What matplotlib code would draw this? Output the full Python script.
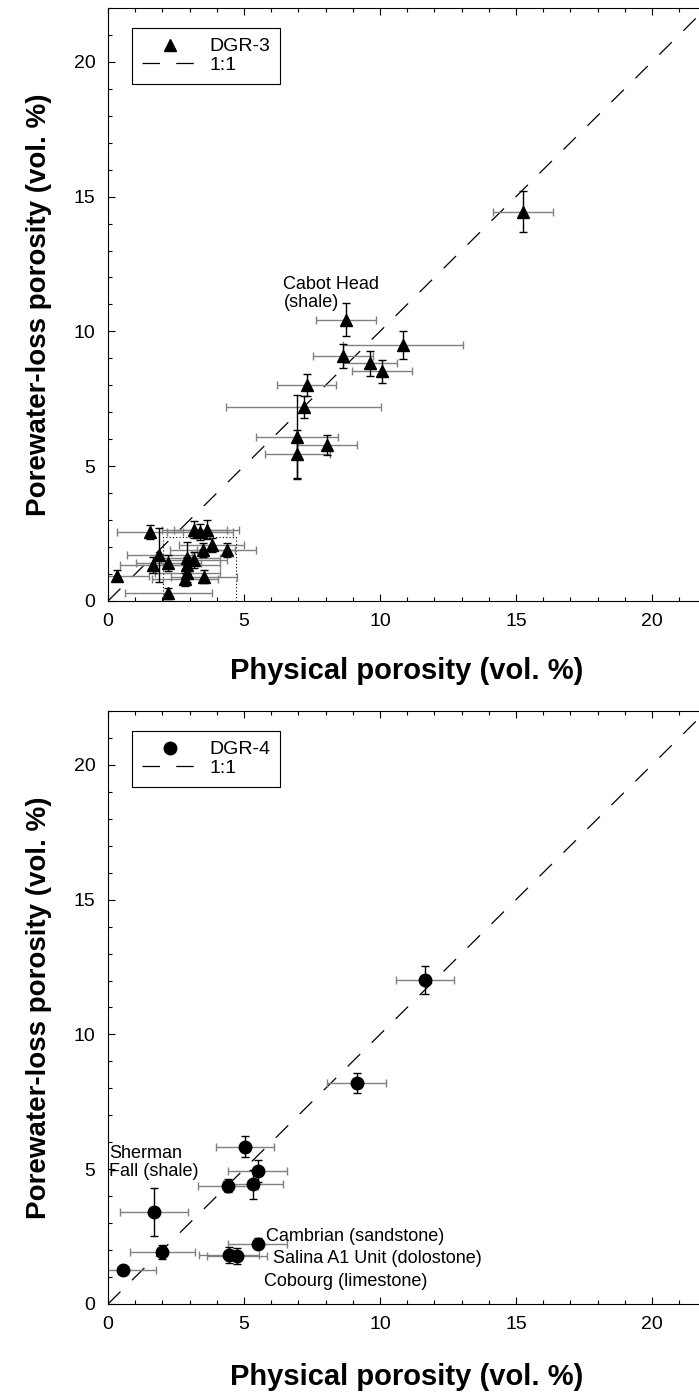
import numpy as np
import matplotlib
matplotlib.use("Agg")
import matplotlib.pyplot as plt
from matplotlib.ticker import MultipleLocator

plt.rcParams['font.family'] = ['Liberation Sans', 'DejaVu Sans']

# DGR-3 (top panel): physical porosity, porewater-loss porosity, errors
dgr3_x = [15.26, 8.75, 10.85, 8.65, 9.63, 10.06, 7.30, 7.20, 6.96, 6.96, 8.04,
          0.32, 1.54, 1.89, 1.64, 2.22, 2.22, 3.17, 3.38, 3.63, 3.81, 3.48, 4.36,
          2.92, 3.16, 2.92, 2.92, 2.83, 3.53]
dgr3_y = [14.44, 10.44, 9.48, 9.09, 8.81, 8.52, 8.02, 7.20, 6.09, 5.46, 5.78,
          0.94, 2.57, 1.70, 1.33, 0.28, 1.42, 2.65, 2.57, 2.65, 2.07, 1.89, 1.89,
          1.58, 1.52, 1.33, 1.02, 0.80, 0.90]
dgr3_xerr = [1.1, 1.1, 2.2, 1.1, 1.0, 1.1, 1.1, 2.85, 1.5, 1.2, 1.1,
             1.2, 1.2, 1.2, 1.2, 1.6, 1.2, 1.2, 1.2, 1.2, 1.2, 1.2, 1.1,
             1.2, 1.2, 1.2, 1.2, 1.2, 1.2]
dgr3_yerr = [0.76, 0.6, 0.52, 0.46, 0.46, 0.43, 0.41, 0.4, 1.55, 0.9, 0.37,
             0.2, 0.26, 1.0, 0.3, 0.2, 0.3, 0.3, 0.3, 0.35, 0.25, 0.25, 0.25,
             0.6, 0.3, 0.3, 0.3, 0.25, 0.25]

# DGR-4 (bottom panel)
dgr4_x = [11.65, 9.14, 5.04, 5.50, 4.42, 5.32, 5.50, 4.46, 4.75, 1.69, 2.0, 0.55]
dgr4_y = [12.02, 8.19, 5.84, 4.94, 4.39, 4.44, 2.23, 1.82, 1.78, 3.41, 1.92, 1.26]
dgr4_xerr = [1.07, 1.1, 1.07, 1.1, 1.1, 1.1, 1.1, 1.1, 1.1, 1.25, 1.2, 1.2]
dgr4_yerr = [0.53, 0.38, 0.38, 0.4, 0.25, 0.53, 0.2, 0.3, 0.3, 0.9, 0.25, 0.1]

# dotted box around low-porosity DGR-3 samples
box_x = [2.02, 2.02, 4.7, 4.7]
box_y = [0.0, 2.37, 2.37, 0.0]

LIM = 22

fig = plt.figure(figsize=(6.99, 13.93), dpi=100)
ax1 = fig.add_axes([0.1545, 0.5686, 0.856, 0.4257])
ax2 = fig.add_axes([0.1545, 0.0639, 0.856, 0.4257])


def draw(ax, x, y, xerr, yerr, marker, ms, label, xpad):
    ax.errorbar(x, y, xerr=xerr, fmt='none', ecolor='#808080', elinewidth=1.0,
                capsize=3, capthick=1.0, zorder=2)
    ax.errorbar(x, y, yerr=yerr, fmt='none', ecolor='black', elinewidth=1.0,
                capsize=3, capthick=1.0, zorder=3)
    ax.plot(x, y, marker, color='black', ms=ms, ls='none', label=label, zorder=4)
    ax.plot([0, LIM], [0, LIM], color='black', lw=0.9, dashes=(14, 13),
            label='1:1', zorder=1)
    ax.set_xlim(0, LIM)
    ax.set_ylim(0, LIM)
    ax.xaxis.set_major_locator(MultipleLocator(5))
    ax.yaxis.set_major_locator(MultipleLocator(5))
    ax.xaxis.set_minor_locator(MultipleLocator(1))
    ax.yaxis.set_minor_locator(MultipleLocator(1))
    ax.tick_params(which='both', direction='in', top=True, right=True,
                   labelsize=14, width=0.8)
    ax.tick_params(which='major', length=5, pad=9)
    ax.tick_params(which='minor', length=3)
    for s in ax.spines.values():
        s.set_linewidth(0.8)
    ax.set_xlabel('Physical porosity (vol. %)', fontsize=21, fontweight='bold',
                  labelpad=xpad)
    ax.set_ylabel('Porewater-loss porosity (vol. %)', fontsize=20,
                  fontweight='bold', labelpad=16)
    leg = ax.legend(loc='upper left', bbox_to_anchor=(0.04, 0.966), fontsize=14,
                    frameon=True, fancybox=False, framealpha=1, edgecolor='black',
                    handlelength=2.9, borderpad=0.5, labelspacing=0.05,
                    handletextpad=0.6, borderaxespad=0)
    leg.get_frame().set_linewidth(0.8)


draw(ax1, dgr3_x, dgr3_y, dgr3_xerr, dgr3_yerr, '^', 9, 'DGR-3', 19)
ax1.plot(box_x, box_y, color='black', lw=0.8, ls=(0, (1, 2)), zorder=1)
ax1.text(6.45, 12.05, 'Cabot Head\n(shale)', fontsize=13, ha='left', va='top',
         linespacing=1.1)

draw(ax2, dgr4_x, dgr4_y, dgr4_xerr, dgr4_yerr, 'o', 9, 'DGR-4', 21)
ax2.text(0.05, 5.9, 'Sherman\nFall (shale)', fontsize=13, ha='left', va='top',
         linespacing=1.1)
ax2.text(5.8, 2.52, 'Cambrian (sandstone)', fontsize=13, ha='left', va='center')
ax2.text(6.07, 1.67, 'Salina A1 Unit (dolostone)', fontsize=13, ha='left',
         va='center')
ax2.text(5.74, 0.85, 'Cobourg (limestone)', fontsize=13, ha='left', va='center')

fig.savefig('out.png', dpi=100)
